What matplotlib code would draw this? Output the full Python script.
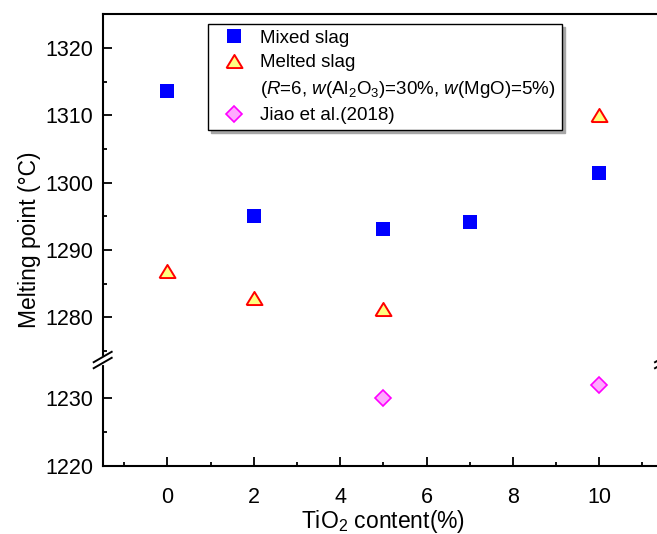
import matplotlib
matplotlib.use("Agg")
import matplotlib.pyplot as plt
from matplotlib.lines import Line2D

plt.rcParams['font.family'] = ['Liberation Sans', 'DejaVu Sans']
plt.rcParams['mathtext.fontset'] = 'custom'
plt.rcParams['mathtext.rm'] = 'Liberation Sans'
plt.rcParams['mathtext.it'] = 'Liberation Sans:italic'

# data
mixed_x = [0, 2, 5, 7, 10]
mixed_y = [1313.6, 1295.1, 1293.1, 1294.2, 1301.5]

melted_x = [0, 2, 5, 10]
melted_y = [1286.8, 1282.8, 1281.2, 1310.0]

jiao_x = [5, 10]
jiao_y = [1230.0, 1232.0]

labels = ["Mixed slag",
          "Melted slag",
          r"($\mathit{R}$=6, $\mathit{w}$(Al$_2$O$_3$)=30%, $\mathit{w}$(MgO)=5%)",
          "Jiao et al.(2018)"]

W, H = 657, 534
fig = plt.figure(figsize=(W / 100, H / 100), dpi=100)

# axes geometry in pixels (left, right, top, break, bottom)
px_l, px_r, px_t, px_b, px_bot = 102.7, 664.0, 14.3, 360.0, 465.7
ax_top = fig.add_axes([px_l / W, 1 - px_b / H, (px_r - px_l) / W, (px_b - px_t) / H])
ax_bot = fig.add_axes([px_l / W, 1 - px_bot / H, (px_r - px_l) / W, (px_bot - px_b) / H],
                      sharex=ax_top)

tri = [(-1, -0.82), (1, -0.82), (0, 0.82), (-1, -0.82)]

handles = []
for ax in (ax_top, ax_bot):
    h1, = ax.plot(mixed_x, mixed_y, ls='none', marker='s', ms=10, color='#0000FF',
                  mew=0)
    h2, = ax.plot(melted_x, melted_y, ls='none', marker=tri, ms=11.5, mfc='#FFFF80',
                  mec='#FF0000', mew=1.4)
    h3, = ax.plot(jiao_x, jiao_y, ls='none', marker='D', ms=8.2, mfc='#FFAAFF',
                  mec='#FF00FF', mew=1.2)
    handles = [h1, h2, h3]

ax_top.set_xlim(-1.5, 11.5)
ax_top.set_ylim(1273.65, 1325)
ax_bot.set_ylim(1220, 1235.7)

ax_top.set_yticks([1280, 1290, 1300, 1310, 1320])
ax_top.set_yticks([1275, 1285, 1295, 1305, 1315], minor=True)
ax_bot.set_yticks([1220, 1230])
ax_bot.set_yticks([1225], minor=True)
ax_bot.set_xticks([0, 2, 4, 6, 8, 10])
ax_bot.set_xticks([-1, 1, 3, 5, 7, 9, 11], minor=True)

for ax in (ax_top, ax_bot):
    for s in ax.spines.values():
        s.set_linewidth(1.5)
    ax.tick_params(which='both', direction='in', width=1.3, labelsize=15.5,
                   right=False, top=False)
    ax.tick_params(which='major', length=6.5)
    ax.tick_params(which='minor', length=3)
    ax.tick_params(axis='y', pad=6.8)
ax_top.spines['bottom'].set_visible(False)
ax_bot.spines['top'].set_visible(False)
ax_top.tick_params(axis='x', which='both', bottom=False, labelbottom=False)
ax_bot.tick_params(axis='x', pad=15)

fig.text(30 / W, 1 - 240 / H, "Melting point (°C)", rotation=90, fontsize=16.5,
         ha='center', va='center')
fig.text((px_l + px_r) / 2 / W, 1 - 528 / H, "TiO$_2$ content(%)", fontsize=16.5,
         ha='center', va='baseline')


# axis break marks
def fpt(x, y):
    return x / W, 1 - y / H


for sx in (px_l, px_r):
    x0, y0 = fpt(sx, px_b - 2.5)
    x1, y1 = fpt(sx, px_b + 2.5)
    fig.add_artist(Line2D([x0, x1], [y0, y1], color='white', lw=3,
                          transform=fig.transFigure, zorder=10))
    for dy in (-3.0, 3.0):
        xa, ya = fpt(sx - 9, px_b + dy + 5.2)
        xb, yb = fpt(sx + 9, px_b + dy - 5.2)
        fig.add_artist(Line2D([xa, xb], [ya, yb], color='black', lw=1.4,
                              transform=fig.transFigure, zorder=11))

blank = Line2D([], [], ls='none')
leg = fig.legend([handles[0], handles[1], blank, handles[2]], labels,
                 loc='upper left',
                 bbox_to_anchor=(208 / W, 1 - 127 / H, (562 - 208) / W, 103 / H),
                 bbox_transform=fig.transFigure, borderaxespad=0, mode='expand',
                 borderpad=0.3, handlelength=2.2, handletextpad=0.3,
                 labelspacing=0.4, fancybox=False, edgecolor='black',
                 framealpha=1, fontsize=13.5, numpoints=1,
                 shadow={'color': '0.65', 'alpha': 1})
leg.get_frame().set_linewidth(1.0)

fig.savefig("out.png", dpi=100)
